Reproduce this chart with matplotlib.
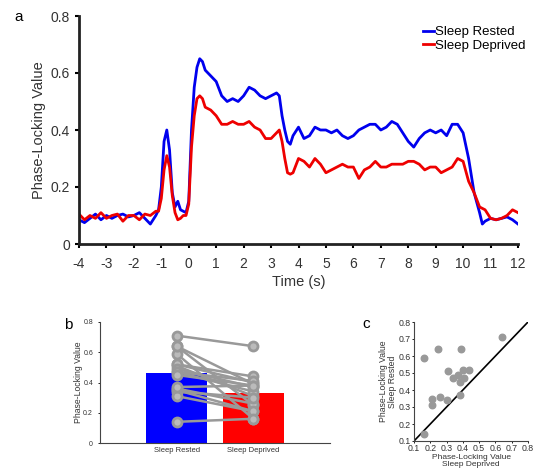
import numpy as np
import matplotlib.pyplot as plt

plt.rcParams['font.family'] = ['Liberation Sans', 'DejaVu Sans']
plt.rcParams['axes.unicode_minus'] = False

# ---- panel a: time course ----
t = [-4, -3.8, -3.6, -3.4, -3.2, -3.0, -2.8, -2.6, -2.4, -2.2, -2.0, -1.8, -1.6, -1.4,
     -1.2, -1.1, -1.0, -0.9, -0.8, -0.7, -0.6, -0.5, -0.4, -0.3, -0.2, -0.1, 0.0, 0.1,
     0.2, 0.3, 0.4, 0.5, 0.6, 0.8, 1.0, 1.2, 1.4, 1.6, 1.8, 2.0, 2.2, 2.4, 2.6, 2.8,
     3.0, 3.2, 3.3, 3.4, 3.5, 3.6, 3.7, 3.8, 4.0, 4.2, 4.4, 4.6, 4.8, 5.0, 5.2, 5.4,
     5.6, 5.8, 6.0, 6.2, 6.4, 6.6, 6.8, 7.0, 7.2, 7.4, 7.6, 7.8, 8.0, 8.2, 8.4, 8.6,
     8.8, 9.0, 9.2, 9.4, 9.6, 9.8, 10.0, 10.2, 10.4, 10.6, 10.7, 10.8, 11.0, 11.2,
     11.4, 11.6, 11.8, 12.0]
rested = [0.085, 0.075, 0.09, 0.105, 0.085, 0.10, 0.09, 0.10, 0.105, 0.095, 0.10, 0.11, 0.09, 0.07,
          0.10, 0.12, 0.20, 0.36, 0.40, 0.33, 0.18, 0.13, 0.15, 0.12, 0.115, 0.11, 0.15, 0.40,
          0.55, 0.62, 0.65, 0.64, 0.61, 0.59, 0.57, 0.52, 0.50, 0.51, 0.50, 0.52, 0.55, 0.54, 0.52, 0.51,
          0.52, 0.53, 0.52, 0.45, 0.40, 0.36, 0.35, 0.38, 0.41, 0.37, 0.38, 0.41, 0.40, 0.40, 0.39, 0.40,
          0.38, 0.37, 0.38, 0.40, 0.41, 0.42, 0.42, 0.40, 0.41, 0.43, 0.42, 0.39, 0.36, 0.34, 0.37, 0.39,
          0.40, 0.39, 0.40, 0.38, 0.42, 0.42, 0.39, 0.30, 0.18, 0.11, 0.07, 0.08, 0.09, 0.085,
          0.09, 0.095, 0.085, 0.07]
deprived = [0.105, 0.085, 0.10, 0.09, 0.11, 0.09, 0.10, 0.105, 0.08, 0.10, 0.10, 0.085, 0.105, 0.10,
            0.115, 0.115, 0.16, 0.26, 0.31, 0.27, 0.17, 0.11, 0.085, 0.09, 0.10, 0.10, 0.14, 0.34,
            0.45, 0.51, 0.52, 0.51, 0.48, 0.47, 0.45, 0.42, 0.42, 0.43, 0.42, 0.42, 0.43, 0.41, 0.40, 0.37,
            0.37, 0.39, 0.40, 0.36, 0.30, 0.25, 0.245, 0.25, 0.30, 0.29, 0.27, 0.30, 0.28, 0.25, 0.26, 0.27,
            0.28, 0.27, 0.27, 0.23, 0.26, 0.27, 0.29, 0.27, 0.27, 0.28, 0.28, 0.28, 0.29, 0.29, 0.28, 0.26,
            0.27, 0.27, 0.25, 0.26, 0.27, 0.30, 0.29, 0.22, 0.18, 0.13, 0.125, 0.12, 0.09, 0.085,
            0.09, 0.10, 0.12, 0.11]

# ---- panel b/c: per-subject values (deprived, rested) ----
subj_deprived = [0.64, 0.16, 0.25, 0.39, 0.31, 0.44, 0.40, 0.37, 0.34, 0.41, 0.38, 0.21, 0.26, 0.30, 0.21, 0.38, 0.16]
subj_rested = [0.71, 0.59, 0.64, 0.64, 0.51, 0.52, 0.52, 0.49, 0.47, 0.47, 0.45, 0.35, 0.36, 0.34, 0.31, 0.37, 0.14]
bar_names = ['Sleep Rested', 'Sleep Deprived']
bar_means = [0.46, 0.33]
bar_err = [0.14, 0.11]

fig = plt.figure(figsize=(5.5, 4.71), dpi=100)
W, H = 550.0, 471.0


def box(l, t_, r, b):
    return [l / W, 1 - b / H, (r - l) / W, (b - t_) / H]


tc = '#333333'

ax = fig.add_axes(box(79, 16, 518, 244))
ax.plot(t, rested, color='#0000ee', lw=2, label='Sleep Rested')
ax.plot(t, deprived, color='#ee0000', lw=2, label='Sleep Deprived')
ax.set_xlim(-4, 12)
ax.set_ylim(0, 0.8)
ax.set_xticks(range(-4, 13))
ax.set_yticks([0, 0.2, 0.4, 0.6, 0.8])
ax.set_yticklabels(['0', '0.2', '0.4', '0.6', '0.8'])
ax.tick_params(labelsize=10, labelcolor=tc, width=1.5, length=3, direction='out')
ax.tick_params(axis='x', pad=6)
for s in ['top', 'right']:
    ax.spines[s].set_visible(False)
for s in ['left', 'bottom']:
    ax.spines[s].set_linewidth(2)
    ax.spines[s].set_color('#222222')
ax.set_xlabel('Time (s)', fontsize=10.5, color=tc, labelpad=3)
ax.set_ylabel('Phase-Locking Value', fontsize=10.5, color=tc, labelpad=3)
ax.legend(loc='upper right', frameon=False, fontsize=9.5, handlelength=0.8,
          handletextpad=0.1, labelspacing=0.1, borderaxespad=0.2, bbox_to_anchor=(1.035, 0.99))
fig.text(14 / W, 1 - 17 / H, 'a', fontsize=11, va='center', ha='left')

# panel b
bx = fig.add_axes(box(100, 322, 330, 443))
bx.bar([1, 2], bar_means, width=0.8, color=['#0000ff', '#ff0000'], zorder=1)
bx.errorbar([1, 2], bar_means, yerr=[[0, 0], bar_err], fmt='none', ecolor='black',
            elinewidth=0.8, capsize=1.5, capthick=0.8, zorder=2)
for r, d in zip(subj_rested, subj_deprived):
    bx.plot([1, 2], [r, d], color='#999999', lw=1.8, marker='o', ms=6.5,
            mfc='#bbbbbb', mec='#999999', mew=2, zorder=3)
bx.set_xlim(0, 3)
bx.set_ylim(0, 0.8)
bx.set_xticks([1, 2])
bx.set_xticklabels(bar_names)
bx.set_yticks([0, 0.2, 0.4, 0.6, 0.8])
bx.set_yticklabels(['0', '0.2', '0.4', '0.6', '0.8'])
bx.tick_params(labelsize=5, labelcolor=tc, width=0.6, length=1.5)
bx.tick_params(axis='x', length=0, labelsize=5.5, pad=3)
for s in ['top', 'right']:
    bx.spines[s].set_visible(False)
for s in ['left', 'bottom']:
    bx.spines[s].set_linewidth(0.8)
    bx.spines[s].set_color('#444444')
bx.set_ylabel('Phase-Locking Value', fontsize=6.2, color=tc, labelpad=0)
fig.text(64 / W, 1 - 325 / H, 'b', fontsize=11, va='center', ha='left')

# panel c
cx = fig.add_axes(box(414, 322, 528, 441))
cx.plot([0.1, 0.8], [0.1, 0.8], color='black', lw=1.2)
cx.scatter(subj_deprived, subj_rested, s=22, color='#999999', zorder=3)
cx.set_xlim(0.1, 0.8)
cx.set_ylim(0.1, 0.8)
ticks = [0.1, 0.2, 0.3, 0.4, 0.5, 0.6, 0.7, 0.8]
cx.set_xticks(ticks)
cx.set_yticks(ticks)
cx.tick_params(labelsize=6.3, labelcolor=tc, width=0.6, length=1.5, pad=1)
for s in ['top', 'right']:
    cx.spines[s].set_visible(False)
for s in ['left', 'bottom']:
    cx.spines[s].set_linewidth(0.8)
    cx.spines[s].set_color('#444444')
cx.set_xlabel('Phase-Locking Value\nSleep Deprived', fontsize=6, color=tc, labelpad=0.5, linespacing=0.95)
cx.set_ylabel('Phase-Locking Value\nSleep Rested', fontsize=6.2, color=tc, labelpad=1, linespacing=1.0)
fig.text(362 / W, 1 - 324 / H, 'c', fontsize=11, va='center', ha='left')

fig.savefig('out.png', dpi=100)
